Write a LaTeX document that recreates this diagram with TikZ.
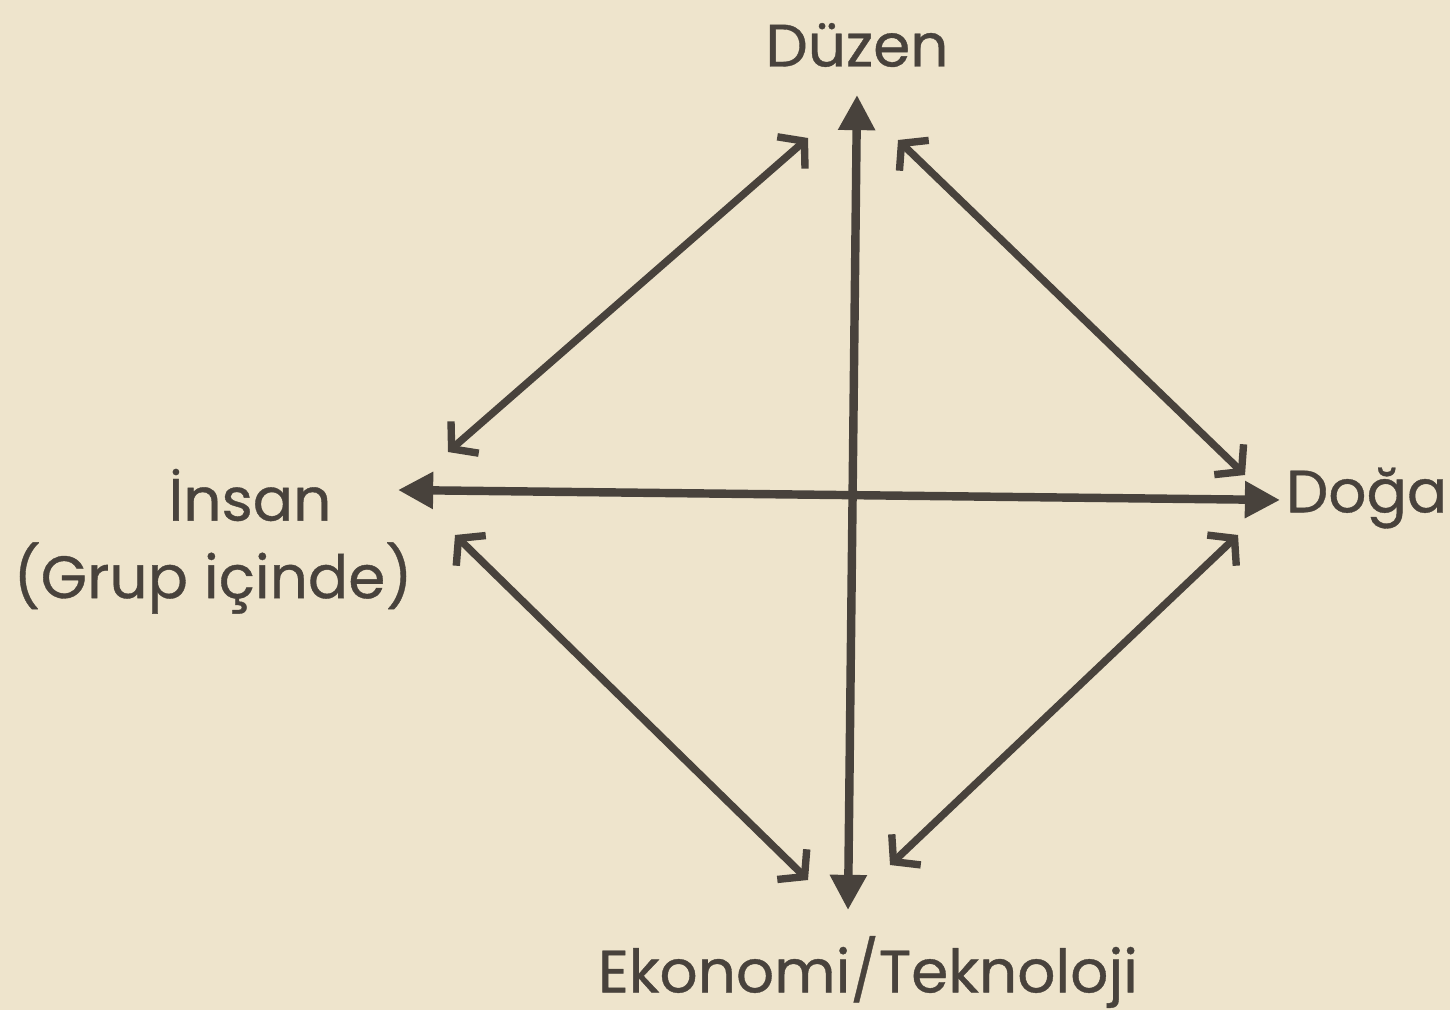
\documentclass[tikz,border=0pt]{standalone}
\usepackage{fontspec}
\setmainfont{Poppins}[FakeBold=0.6]
\usetikzlibrary{arrows.meta}
\definecolor{paper}{RGB}{238,228,204}
\definecolor{ink}{RGB}{72,66,60}
\begin{document}
\begin{tikzpicture}[
  lbl/.style={font=\fontsize{17}{20}\selectfont,text=ink,inner sep=0pt},
  axis/.style={draw=ink,line width=2.4pt,
    arrows={Triangle[length=10pt,width=10pt]-Triangle[length=10pt,width=10pt]}},
  diag/.style={draw=ink,line width=2.1pt,line cap=round,
    arrows={Straight Barb[length=5pt,width=12pt]-Straight Barb[length=5pt,width=12pt]}}]
\fill[paper] (0,0) rectangle (14.5,10.1);
\useasboundingbox (0,0) rectangle (14.5,10.1);
% labels
\node[lbl] (duzen) at (8.57,9.65) {Düzen};
\node[lbl] (insan) at (2.50,5.15) {İnsan};
\node[lbl] (grup) at (2.13,4.32) {(Grup içinde)};
\node[lbl,anchor=east] (doga) at (14.48,5.12) {Doğa};
\node[lbl] (ekonomi) at (8.68,0.38) {Ekonomi/Teknoloji};
% arrow ends
\coordinate (top) at (8.57,9.15);
\coordinate (bot) at (8.48,1.00);
\coordinate (lft) at (3.98,5.20);
\coordinate (rgt) at (12.80,5.10);
\coordinate (ulA) at (4.48,5.58);
\coordinate (ulB) at (8.08,8.72);
\coordinate (urA) at (8.98,8.70);
\coordinate (urB) at (12.45,5.35);
\coordinate (llA) at (4.55,4.75);
\coordinate (llB) at (8.08,1.30);
\coordinate (lrA) at (8.90,1.45);
\coordinate (lrB) at (12.38,4.75);
% axes
\draw[axis] (bot) -- (top);
\draw[axis] (lft) -- (rgt);
% diagonals
\foreach \a/\b in {ulA/ulB,urA/urB,llA/llB,lrA/lrB}
  \draw[diag] (\a) -- (\b);
\end{tikzpicture}
\end{document}
